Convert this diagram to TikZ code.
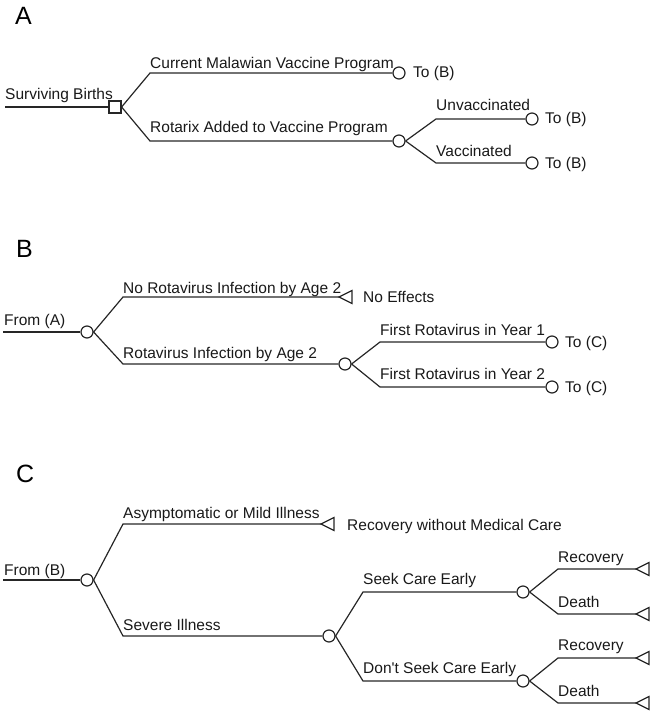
\documentclass[tikz,border=0pt]{standalone}
\usepackage{fontspec}
\setmainfont{Liberation Sans}
\begin{document}
\begin{tikzpicture}[x=1bp,y=-1bp,
  line/.style={draw=black!85, line width=1.2bp},
  dec/.style={draw=black!85, line width=1.2bp, rectangle, minimum size=12bp, inner sep=0pt, fill=white},
  chance/.style={draw=black!85, line width=1.2bp, circle, minimum size=12bp, inner sep=0pt, fill=white},
  lbl/.style={anchor=base west, inner sep=0pt, font=\fontsize{15.5bp}{18bp}\selectfont, text=black!90},
  head/.style={anchor=base west, inner sep=0pt, font=\fontsize{25bp}{30bp}\selectfont},
]
\useasboundingbox (0,0) rectangle (659,719);
\newcommand\termtri[1]{\draw[line] (#1) -- ++(13,-6.5) -- ++(0,13) -- cycle;}

% ---------------- A ----------------
\node[head] (hA) at (15,25) {A};
\coordinate (a0) at (5,107);
\node[dec] (sq) at (115,107) {};
\coordinate (a1) at (150,73);
\coordinate (a2) at (150,141);
\node[chance] (ca1) at (399,73) {};
\node[chance] (ca2) at (399,141) {};
\coordinate (a3) at (436,119);
\coordinate (a4) at (436,163);
\node[chance] (ca3) at (532,119) {};
\node[chance] (ca4) at (532,163) {};
\draw[line] (a0) -- (sq.west);
\draw[line] (sq.east) -- (a1) -- (ca1.west);
\draw[line] (sq.east) -- (a2) -- (ca2.west);
\draw[line] (ca2.east) -- (a3) -- (ca3.west);
\draw[line] (ca2.east) -- (a4) -- (ca4.west);
\node[lbl] (tA0) at (5,100) {Surviving Births};
\node[lbl] (tA1) at (150,69) {Current Malawian Vaccine Program};
\node[lbl] (tA2) at (150,133) {Rotarix Added to Vaccine Program};
\node[lbl] (tA3) at (436,111) {Unvaccinated};
\node[lbl] (tA4) at (436,156) {Vaccinated};
\node[lbl] (oA1) at (413,78) {To (B)};
\node[lbl] (oA3) at (545,124) {To (B)};
\node[lbl] (oA4) at (545,168) {To (B)};

% ---------------- B ----------------
\node[head] (hB) at (16,257) {B};
\coordinate (b0) at (3,332);
\node[chance] (cb0) at (87,332) {};
\coordinate (b1) at (123,297);
\coordinate (b2) at (123,364);
\coordinate (tb1) at (339,297);
\node[chance] (cb1) at (345,364) {};
\coordinate (b3) at (380,342);
\coordinate (b4) at (380,387);
\node[chance] (cb2) at (552,342) {};
\node[chance] (cb3) at (552,387) {};
\draw[line] (b0) -- (cb0.west);
\draw[line] (cb0.east) -- (b1) -- (tb1);
\draw[line] (cb0.east) -- (b2) -- (cb1.west);
\draw[line] (cb1.east) -- (b3) -- (cb2.west);
\draw[line] (cb1.east) -- (b4) -- (cb3.west);
\termtri{tb1}
\node[lbl] (tB0) at (4,325) {From (A)};
\node[lbl] (tB1) at (123,293) {No Rotavirus Infection by Age 2};
\node[lbl] (tB2) at (123,358) {Rotavirus Infection by Age 2};
\node[lbl] (oB1) at (363,302) {No Effects};
\node[lbl] (tB3) at (380,335) {First Rotavirus in Year 1};
\node[lbl] (tB4) at (380,379) {First Rotavirus in Year 2};
\node[lbl] (oB3) at (565,347) {To (C)};
\node[lbl] (oB4) at (565,392) {To (C)};

% ---------------- C ----------------
\node[head] (hC) at (16,482) {C};
\coordinate (c0) at (3,580);
\node[chance] (cc0) at (87,580) {};
\coordinate (c1) at (123,524);
\coordinate (c2) at (123,636);
\coordinate (tc1) at (321,524);
\node[chance] (cc1) at (329,636) {};
\coordinate (c3) at (363,592);
\coordinate (c4) at (363,681);
\node[chance] (cc2) at (523,592) {};
\node[chance] (cc3) at (523,681) {};
\coordinate (c5) at (558,569);
\coordinate (c6) at (558,614);
\coordinate (c7) at (558,658);
\coordinate (c8) at (558,703);
\coordinate (tc5) at (636,569);
\coordinate (tc6) at (636,614);
\coordinate (tc7) at (636,658);
\coordinate (tc8) at (636,703);
\draw[line] (c0) -- (cc0.west);
\draw[line] (cc0.east) -- (c1) -- (tc1);
\draw[line] (cc0.east) -- (c2) -- (cc1.west);
\draw[line] (cc1.east) -- (c3) -- (cc2.west);
\draw[line] (cc1.east) -- (c4) -- (cc3.west);
\draw[line] (cc2.east) -- (c5) -- (tc5);
\draw[line] (cc2.east) -- (c6) -- (tc6);
\draw[line] (cc3.east) -- (c7) -- (tc7);
\draw[line] (cc3.east) -- (c8) -- (tc8);
\termtri{tc1}
\termtri{tc5}
\termtri{tc6}
\termtri{tc7}
\termtri{tc8}
\node[lbl] (tC0) at (4,575) {From (B)};
\node[lbl] (tC1) at (123,518) {Asymptomatic or Mild Illness};
\node[lbl] (tC2) at (123,630) {Severe Illness};
\node[lbl] (oC1) at (347,530) {Recovery without Medical Care};
\node[lbl] (tC3) at (363,584) {Seek Care Early};
\node[lbl] (tC4) at (363,673) {Don\textquotesingle t Seek Care Early};
\node[lbl] (tC5) at (558,562) {Recovery};
\node[lbl] (tC6) at (558,607) {Death};
\node[lbl] (tC7) at (558,650) {Recovery};
\node[lbl] (tC8) at (558,696) {Death};
\end{tikzpicture}
\end{document}
